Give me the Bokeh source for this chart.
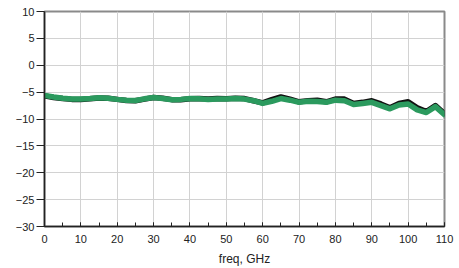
from bokeh.plotting import figure
from bokeh.embed import file_html
from bokeh.resources import INLINE
from bokeh.models import FixedTicker, Range1d

freq = [0, 2.5, 5, 7.5, 10, 12.5, 15, 17.5, 20, 22.5, 25, 27.5, 30, 32.5, 35, 37.5,
        40, 42.5, 45, 47.5, 50, 52.5, 55, 57.5, 60, 62.5, 65, 67.5, 70, 72.5, 75,
        77.5, 80, 82.5, 85, 87.5, 90, 92.5, 95, 97.5, 100, 102.5, 105, 107.5, 110]
s_black = [-5.7, -6.0, -6.2, -6.35, -6.35, -6.25, -6.1, -6.15, -6.35, -6.55, -6.6,
           -6.3, -6.0, -6.15, -6.4, -6.4, -6.25, -6.2, -6.3, -6.2, -6.25, -6.15, -6.2,
           -6.6, -7.0, -6.4, -5.9, -6.3, -6.8, -6.6, -6.5, -6.8, -6.3, -6.3, -7.1,
           -6.9, -6.6, -7.2, -7.9, -7.1, -6.8, -7.9, -8.6, -7.5, -9.0]
s_green = [-5.6, -5.9, -6.15, -6.3, -6.3, -6.2, -6.05, -6.15, -6.35, -6.5, -6.55,
           -6.25, -6.0, -6.2, -6.4, -6.35, -6.2, -6.25, -6.35, -6.3, -6.3, -6.2, -6.3,
           -6.6, -7.1, -6.7, -6.2, -6.5, -6.9, -6.7, -6.75, -6.9, -6.5, -6.6, -7.3,
           -7.1, -6.9, -7.5, -8.1, -7.4, -7.2, -8.3, -8.8, -7.7, -9.2]
x_ticks = [0, 10, 20, 30, 40, 50, 60, 70, 80, 90, 100, 110]
y_ticks = [-30, -25, -20, -15, -10, -5, 0, 5, 10]

p = figure(width=459, height=268, output_backend="svg", toolbar_location=None,
           x_range=Range1d(0, 110), y_range=Range1d(-30, 10),
           min_border_left=44, min_border_right=15, min_border_top=11, min_border_bottom=41)
p.background_fill_color = "white"
p.border_fill_color = "white"
p.outline_line_color = "#8a8a8a"
p.outline_line_width = 2

p.line(freq, s_black, line_color="#111111", line_width=5.5, line_join="round", line_cap="round")
p.line(freq, s_green, line_color="#2b9a5e", line_width=5.5, line_join="round", line_cap="round")

font = "Liberation Sans"
p.xaxis.ticker = FixedTicker(ticks=x_ticks, minor_ticks=list(range(0, 111, 5)))
p.yaxis.ticker = FixedTicker(ticks=y_ticks, minor_ticks=[])
for ax in (p.xaxis[0], p.yaxis[0]):
    ax.axis_line_color = "#222222"
    ax.axis_line_width = 1.5
    ax.major_tick_line_color = "#222222"
    ax.minor_tick_line_color = "#222222"
    ax.major_label_text_font = font
    ax.major_label_text_font_size = "11px"
    ax.major_label_text_color = "#222222"

p.xaxis.major_tick_in = 4
p.xaxis.major_tick_out = 0
p.xaxis.minor_tick_in = 4
p.xaxis.minor_tick_out = 0
p.xaxis.major_label_standoff = 8
p.xaxis.axis_label = "freq, GHz"
p.xaxis.axis_label_text_font = font
p.xaxis.axis_label_text_font_style = "normal"
p.xaxis.axis_label_text_font_size = "12px"
p.xaxis.axis_label_standoff = 6
p.xaxis.axis_label_text_color = "#222222"

p.yaxis.major_tick_in = 0
p.yaxis.major_tick_out = 8
p.yaxis.minor_tick_line_color = None
p.yaxis.major_label_standoff = 2

p.xgrid.grid_line_color = "#d2d2d2"
p.ygrid.grid_line_color = "#d2d2d2"
p.xgrid.grid_line_width = 1
p.ygrid.grid_line_width = 1

open("out.html", "w").write(file_html(p, INLINE))
